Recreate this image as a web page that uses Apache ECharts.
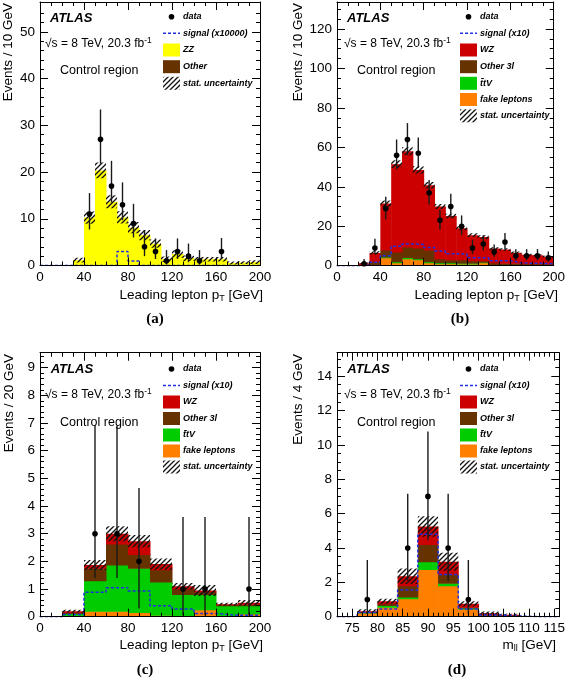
<!DOCTYPE html>
<html><head><meta charset="utf-8">
<script src="https://cdn.jsdelivr.net/npm/echarts@6/dist/echarts.min.js"></script>
<style>html,body{margin:0;padding:0;background:#fff}#c{width:568px;height:680px}</style>
</head><body><div id="c"></div>
<script>
// ===================== DATA =====================
// Panel (a): ZZ control region, leading lepton pT, 10 GeV bins
const aBinLo = [0,10,20,30,40,50,60,70,80,90,100,110,120,130,140,150,160,170,180,190];
const aZZ    = [0,0,0,1.1,10.1,20.2,13.5,10.2,8.0,6.4,4.6,1.3,2.4,1.5,1.3,1.3,1.3,0.5,0.6,0.7];
const aOther = [0,0,0,0.05,0.15,0.15,0.15,0.1,0.1,0.08,0.08,0.05,0.05,0.05,0.04,0.04,0.04,0.03,0.03,0.03];
const aStatErr = [0,0,0,0.5,1.3,1.7,1.4,1.3,1.2,1.1,0.9,0.6,0.8,0.6,0.5,0.5,0.5,0.3,0.3,0.4];
const aSignal  = [0,0,0,0,0,0,0,3.0,0.95,0,0,0,0,0,0,0,0,0,0,0];
const aData    = [null,null,null,null,11,27,17,13,9,4,3,1,3,2,1,null,3,null,null,null];
const aDataLo  = [null,null,null,null,7.7,21.8,13.5,9.7,6.0,2.0,1.4,0.2,1.4,0.7,0.2,null,1.4,null,null,null];
const aDataHi  = [null,null,null,null,15.5,33.4,22.4,17.8,13.2,7.6,5.8,3.3,5.8,4.7,3.3,null,5.9,null,null,null];

// Panel (b): WZ control region, leading lepton pT, 10 GeV bins
const bBinLo = [0,10,20,30,40,50,60,70,80,90,100,110,120,130,140,150,160,170,180,190];
const bFake  = [0,0,0.2,0.5,4.0,1.5,3.5,3.0,1.5,1.0,1.0,0.8,0.8,1.5,0.3,0.3,0.3,0.3,0.3,0.3];
const bTtV   = [0,0,0,0.1,0.4,0.5,0.7,0.5,0.5,0.5,0.5,0.5,0.4,0.3,0.3,0.2,0.2,0.2,0.2,0.2];
const bOther = [0,0,0.2,1.5,3.6,5.0,5.3,5.5,6.0,2.0,1.5,1.7,1.3,0.7,0.9,0.7,0.7,0.5,0.5,0.5];
const bWZ    = [0,0,0.8,4.4,23.5,44.5,48.5,39.5,32.8,26.5,22.2,16.0,13.0,12.0,7.2,7.0,5.4,4.6,4.3,3.5];
const bStatErr = [0,0,0.4,0.8,1.6,2.0,2.0,1.9,1.6,1.3,1.2,1.0,0.9,0.9,0.7,0.7,0.6,0.5,0.5,0.5];
const bSignal  = [0,0,0.3,1.7,5.0,9.9,11.0,10.8,9.2,7.5,6.0,5.9,4.0,4.0,2.5,2.5,1.5,1.2,1.2,1.0];
const bData    = [null,null,1,9,29,56,64,57,37,23,30,20,9,11,7,12,5,5,5,4];
const bDataLo  = [null,null,0.2,5.8,23.5,48.7,56,49.5,31,18.3,24.6,15.5,6,7.7,4.5,8.5,2.8,2.8,2.8,2.1];
const bDataHi  = [null,null,3.4,13.7,35,64,72.3,65,43.5,28.3,36.5,25.5,13.2,15.4,10.8,16.6,8.4,8.4,8.4,7.2];

// Panel (c): leading lepton pT, 20 GeV bins
const cBinLo = [0,20,40,60,80,100,120,140,160,180];
const cFake  = [0,0.02,0.2,0.2,0.15,0.05,0,0.25,0,0.1];
const cTtV   = [0,0.1,1.1,1.67,1.6,1.2,0.8,0.55,0.4,0.3];
const cOther = [0,0.03,0.45,0.76,0.5,0.45,0.2,0.1,0.03,0.05];
const cWZ    = [0,0.05,0.12,0.37,0.48,0.2,0.1,0.05,0.02,0.05];
const cStatErr = [0,0.05,0.18,0.27,0.22,0.2,0.12,0.2,0.05,0.1];
const cSignal  = [0,0.08,0.88,1.05,0.93,0.4,0.28,0.12,0.05,0.05];
const cData    = [null,null,3,3,2,null,1,1,null,1];
const cDataLo  = [null,null,1.4,1.4,0.3,null,0.05,0.05,null,0.05];
const cDataHi  = [null,null,6.9,6.9,4.65,null,3.6,3.6,null,3.6];

// Panel (d): m_ll, 4 GeV bins
const dBinLo = [72,76,80,84,88,92,96,100,104,108,112];
const dFake  = [0,0.22,0.55,1.05,2.75,1.8,0.45,0.08,0.06,0,0];
const dTtV   = [0,0.02,0.1,0.1,0.45,0.15,0.05,0.01,0.01,0,0];
const dOther = [0,0.03,0.1,0.65,1.0,0.5,0.05,0.03,0.02,0,0];
const dWZ    = [0,0.05,0.15,0.55,1.05,0.75,0.2,0.08,0.03,0,0];
const dStatErr = [0,0.12,0.15,0.45,0.6,0.52,0.15,0.1,0.05,0,0];
const dSignal  = [0,0.25,0.45,1.55,4.8,2.45,0.45,0.1,0.05,0,0];
const dData    = [null,1,null,4,7,4,1,null,null,null,null];
const dDataLo  = [null,0.17,null,2.09,4.45,2.09,0.17,null,null,null,null];
const dDataHi  = [null,3.3,null,7.16,10.77,7.16,3.3,null,null,null,null];

// Tick values
const ptMajor = [0,40,80,120,160,200];
const ptMinor = []; for (let v=10; v<200; v+=10) ptMinor.push(v);
const aYMajor = [0,10,20,30,40,50];
const aYMinor = []; for (let v=2; v<56; v+=2) aYMinor.push(v);
const bYMajor = [0,20,40,60,80,100,120];
const bYMinor = []; for (let v=5; v<133; v+=5) bYMinor.push(v);
const cYMajor = [0,1,2,3,4,5,6,7,8,9];
const cYMinor = []; for (let k=1; k<48; k++) cYMinor.push(+(k*0.2).toFixed(1));
const dYMajor = [0,2,4,6,8,10,12,14];
const dYMinor = []; for (let k=1; k<31; k++) dYMinor.push(k*0.5);
const dXMajor = [75,80,85,90,95,100,105,110,115];
const dXMinor = []; for (let v=73; v<116; v++) dXMinor.push(v);

// ===================== STYLE =====================
const FONT = '"Liberation Sans", Arial, Helvetica, sans-serif';
const COL = {zz:'#ffff00', other:'#663300', wz:'#cc0000', ttv:'#00cc00', fake:'#ff8000', sig:'#2030e0'};

function makeHatch(){
  const s = 5, cv = document.createElement('canvas');
  cv.width = s; cv.height = s;
  const g = cv.getContext('2d');
  g.strokeStyle = '#111'; g.lineWidth = 1.3;
  g.beginPath();
  g.moveTo(-1, s+1); g.lineTo(s+1, -1);
  g.moveTo(-1, 1); g.lineTo(1, -1);
  g.moveTo(s-1, s+1); g.lineTo(s+1, s-1);
  g.stroke();
  return cv;
}
const HATCH = {image: makeHatch(), repeat: 'repeat'};

const grids = [], xAxes = [], yAxes = [], series = [], graphics = [];

function tickAxis(base, pos, major, minor, withLabels){
  const line = {show:true, onZero:false, lineStyle:{color:'#000', width:1}};
  const lab = {show:withLabels, customValues:major, margin:5, color:'#000', fontSize:13.5, fontFamily:FONT, showMinLabel:true, showMaxLabel:true};
  return [
    Object.assign({}, base, {position:pos, axisLine:line,
      axisTick:{show:true, inside:true, length:8, customValues:major, lineStyle:{color:'#000', width:1}},
      axisLabel: withLabels ? lab : {show:false}}),
    Object.assign({}, base, {position:pos, axisLine:{show:false, onZero:false},
      axisTick:{show:true, inside:true, length:4, customValues:minor, lineStyle:{color:'#000', width:1}},
      axisLabel:{show:false}})
  ];
}

function stackRender(fill){
  return function(params, api){
    const lo = api.value(0), hi = api.value(1), b = api.value(2), t = api.value(3);
    if (!(t > b)) return null;
    const p0 = api.coord([lo, t]), p1 = api.coord([hi, b]);
    return {type:'rect', shape:{x:p0[0], y:p0[1], width:p1[0]-p0[0]+0.5, height:p1[1]-p0[1]+(b>0?0.5:0)},
            style:{fill:fill}};
  };
}

function addPanel(p){
  const gi = grids.length;
  grids.push({left:p.grid[0], top:p.grid[1], width:p.grid[2], height:p.grid[3]});
  const xi = xAxes.length, yi = yAxes.length;
  const xb = {gridIndex:gi, type:'value', min:p.xr[0], max:p.xr[1], splitLine:{show:false}, z:10};
  const yb = {gridIndex:gi, type:'value', min:p.yr[0], max:p.yr[1], splitLine:{show:false}, z:10};
  xAxes.push(...tickAxis(xb, 'bottom', p.xMaj, p.xMin, true));
  xAxes.push(...tickAxis(xb, 'top', p.xMaj, p.xMin, false));
  yAxes.push(...tickAxis(yb, 'left', p.yMaj, p.yMin, true));
  yAxes.push(...tickAxis(yb, 'right', p.yMaj, p.yMin, false));

  // stacked backgrounds
  const n = p.binLo.length;
  const base = new Array(n).fill(0);
  p.layers.forEach((L, li) => {
    const data = p.binLo.map((lo, i) => {
      const b = base[i], t = base[i] + L.vals[i];
      base[i] = t;
      return [lo, lo + p.w, b, t];
    });
    series.push({type:'custom', name:L.name, xAxisIndex:xi, yAxisIndex:yi, clip:true, z:2+li*0.01,
      encode:{x:[0,1], y:[2,3]}, renderItem: stackRender(L.color), data:data, silent:true});
  });
  // stat uncertainty hatch
  const hd = p.binLo.map((lo, i) => [lo, lo + p.w, Math.max(0, base[i] - p.err[i]), base[i] + p.err[i]]);
  series.push({type:'custom', xAxisIndex:xi, yAxisIndex:yi, clip:true, z:3, encode:{x:[0,1], y:[2,3]},
    renderItem: function(params, api){
      const lo = api.value(0), hi = api.value(1), b = api.value(2), t = api.value(3);
      if (!(t > b)) return null;
      const p0 = api.coord([lo, t]), p1 = api.coord([hi, b]);
      return {type:'rect', shape:{x:p0[0], y:p0[1], width:p1[0]-p0[0], height:p1[1]-p0[1]}, style:{fill:HATCH}};
    }, data:hd, silent:true});
  // signal step line
  const sd = [];
  p.binLo.forEach((lo, i) => { sd.push([lo, p.sig[i]]); sd.push([lo + p.w, p.sig[i]]); });
  series.push({type:'line', xAxisIndex:xi, yAxisIndex:yi, data:sd, symbol:'none', z:4, silent:true,
    lineStyle:{color:COL.sig, width:1.5, type:[3,2]}, animation:false});
  // data points
  const dd = [];
  p.binLo.forEach((lo, i) => { if (p.data[i] != null) dd.push([lo + p.w/2, p.data[i], p.dLo[i], p.dHi[i]]); });
  series.push({type:'custom', xAxisIndex:xi, yAxisIndex:yi, clip:false, z:5, encode:{x:0, y:[1,2,3]},
    renderItem: function(params, api){
      const x = api.value(0), y = api.value(1), lo = api.value(2), hi = api.value(3);
      const pc = api.coord([x, y]), pl = api.coord([x, lo]), ph = api.coord([x, hi]);
      return {type:'group', children:[
        {type:'line', shape:{x1:pc[0], y1:pl[1], x2:pc[0], y2:ph[1]}, style:{stroke:'#1a1a1a', lineWidth:1.4}},
        {type:'circle', shape:{cx:pc[0], cy:pc[1], r:2.8}, style:{fill:'#000'}}
      ]};
    }, data:dd, silent:true});
}

addPanel({grid:[40, 2, 220, 263.5], xr:[0,200], yr:[0,56.4], xMaj:ptMajor, xMin:ptMinor, yMaj:aYMajor, yMin:aYMinor,
  binLo:aBinLo, w:10, layers:[{name:'Other', vals:aOther, color:COL.other},{name:'ZZ', vals:aZZ, color:COL.zz}],
  err:aStatErr, sig:aSignal, data:aData, dLo:aDataLo, dHi:aDataHi});
addPanel({grid:[337, 2, 218.7, 263.7], xr:[0,200], yr:[0,133.7], xMaj:ptMajor, xMin:ptMinor, yMaj:bYMajor, yMin:bYMinor,
  binLo:bBinLo, w:10, layers:[{name:'fake leptons', vals:bFake, color:COL.fake},{name:'ttV', vals:bTtV, color:COL.ttv},
  {name:'Other 3l', vals:bOther, color:COL.other},{name:'WZ', vals:bWZ, color:COL.wz}],
  err:bStatErr, sig:bSignal, data:bData, dLo:bDataLo, dHi:bDataHi});
addPanel({grid:[40, 352.7, 220, 264], xr:[0,200], yr:[0,9.54], xMaj:ptMajor, xMin:ptMinor, yMaj:cYMajor, yMin:cYMinor,
  binLo:cBinLo, w:20, layers:[{name:'fake leptons', vals:cFake, color:COL.fake},{name:'ttV', vals:cTtV, color:COL.ttv},
  {name:'Other 3l', vals:cOther, color:COL.other},{name:'WZ', vals:cWZ, color:COL.wz}],
  err:cStatErr, sig:cSignal, data:cData, dLo:cDataLo, dHi:cDataHi});
addPanel({grid:[337, 352.7, 223, 264], xr:[72,116], yr:[0,15.36], xMaj:dXMajor, xMin:dXMinor, yMaj:dYMajor, yMin:dYMinor,
  binLo:dBinLo, w:4, layers:[{name:'fake leptons', vals:dFake, color:COL.fake},{name:'ttV', vals:dTtV, color:COL.ttv},
  {name:'Other 3l', vals:dOther, color:COL.other},{name:'WZ', vals:dWZ, color:COL.wz}],
  err:dStatErr, sig:dSignal, data:dData, dLo:dDataLo, dHi:dDataHi});

// ===================== TEXT / LEGENDS =====================
function txt(x, y, text, font, opts){
  return {type:'text', x:x, y:y, z:20, style:Object.assign({text:text, font:font, fill:'#000', verticalAlign:'middle', align:'left'}, opts||{})};
}
const LFONT = 'italic bold 9px ' + FONT;
function legend(boxX, textX, rows, items){
  items.forEach((it, k) => {
    const y = rows[k];
    if (it.kind === 'dot') graphics.push({type:'circle', z:20, shape:{cx:boxX+8.5, cy:y, r:2.8}, style:{fill:'#000'}});
    else if (it.kind === 'dash') graphics.push({type:'line', z:20, shape:{x1:boxX, y1:y, x2:boxX+17, y2:y}, style:{stroke:COL.sig, lineWidth:1.5, lineDash:[3,2]}});
    else graphics.push({type:'rect', z:20, shape:{x:boxX, y:y-6.5, width:17, height:13}, style:{fill: it.kind==='hatch' ? HATCH : it.color}});
    graphics.push(txt(textX, y, it.label, LFONT));
  });
}
const bgItems = [
  {kind:'dot', label:'data'}, {kind:'dash', label:'signal (x10)'},
  {kind:'box', color:COL.wz, label:'WZ'}, {kind:'box', color:COL.other, label:'Other 3l'},
  {kind:'box', color:COL.ttv, label:'t\u0304tV'}, {kind:'box', color:COL.fake, label:'fake leptons'},
  {kind:'hatch', label:'stat. uncertainty'}
];
legend(163, 183, [16.7,33.3,50,66.7,83.3], [
  {kind:'dot', label:'data'}, {kind:'dash', label:'signal (x10000)'},
  {kind:'box', color:COL.zz, label:'ZZ'}, {kind:'box', color:COL.other, label:'Other'},
  {kind:'hatch', label:'stat. uncertainty'}]);
legend(460, 480, [16.7,33.3,50,66.7,83.3,99.5,115.8], bgItems);
legend(163, 183, [369,385.5,402,418.5,435,451,467], bgItems);
legend(460, 480, [369,385.5,402,418.5,435,451,467], bgItems);

const ATLASF = 'italic bold 13px ' + FONT;
const SQF = '12px ' + FONT;
const CRF = '12.5px ' + FONT;
const rich = {sup:{fontSize:8.5, fontFamily:FONT, padding:[0,0,7,0]}, sub:{fontSize:9, fontFamily:FONT, padding:[7,0,0,0]}};
[[50,18,45,44,60,71],[347,18,344,44,357,71],[50.7,369,45,395,60,422.7],[347.3,369,344,395,357,422.7]].forEach(q => {
  graphics.push(txt(q[0], q[1], 'ATLAS', ATLASF));
  graphics.push({type:'text', x:q[2], y:q[3], z:20, style:{text:'\u221As = 8 TeV, 20.3 fb{sup|-1}', font:SQF, fill:'#000', verticalAlign:'middle', rich:rich}});
  graphics.push(txt(q[4], q[5], 'Control region', CRF));
});

// axis titles
const TF = '13.5px ' + FONT;
[[8,3,'Events / 10 GeV'],[298,3,'Events / 10 GeV'],[9,354,'Events / 20 GeV'],[298,354,'Events / 4 GeV']].forEach(q => {
  graphics.push({type:'text', x:q[0], y:q[1], rotation:Math.PI/2, z:20,
    style:{text:q[2], font:TF, fill:'#000', align:'right', verticalAlign:'middle'}});
});
[[263,295,'Leading lepton p{sub|T} [GeV]'],[558,295,'Leading lepton p{sub|T} [GeV]'],[263,645,'Leading lepton p{sub|T} [GeV]'],[556,645,'m{sub|ll} [GeV]']].forEach(q => {
  graphics.push({type:'text', x:q[0], y:q[1], z:20, style:{text:q[2], font:TF, fill:'#000', align:'right', verticalAlign:'middle', rich:rich}});
});
const CAPF = 'bold 15px "Liberation Serif", "DejaVu Serif", serif';
[[155,319,'(a)'],[460,319,'(b)'],[145,670,'(c)'],[457,670,'(d)']].forEach(q => {
  graphics.push({type:'text', x:q[0], y:q[1], z:20, style:{text:q[2], font:CAPF, fill:'#000', align:'center', verticalAlign:'middle'}});
});

const chart = echarts.init(document.getElementById('c'), null, {renderer:'canvas', width:568, height:680});
chart.setOption({
  animation:false,
  backgroundColor:'#fff',
  grid:grids, xAxis:xAxes, yAxis:yAxes, series:series,
  graphic:{elements:graphics}
});
</script></body></html>
